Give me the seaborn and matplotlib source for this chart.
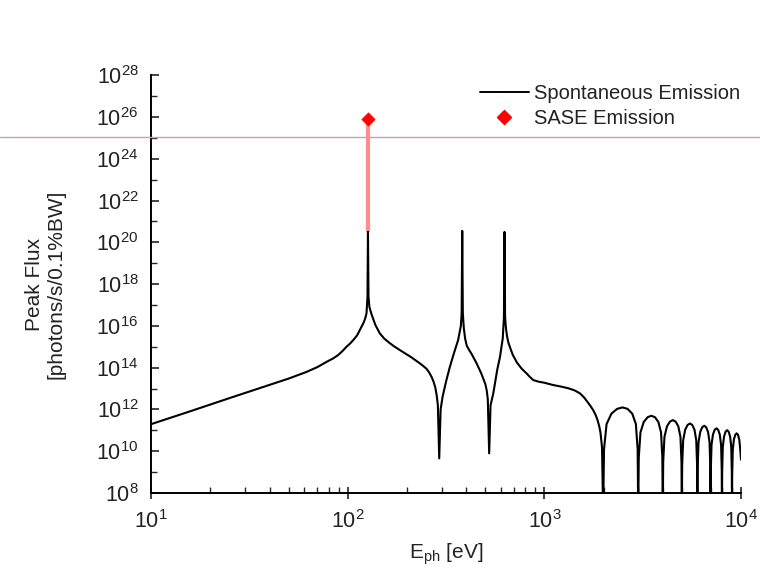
import numpy as np
import pandas as pd
import matplotlib
matplotlib.use("Agg")
import matplotlib.pyplot as plt
import seaborn as sns
from matplotlib.lines import Line2D
from matplotlib.ticker import FixedLocator, NullFormatter

# ---------------- data ----------------
# Spontaneous emission: photon energy [eV] and log10 of peak flux
energy_ev = [
    10.0, 15.85, 25.1, 39.8, 50.0, 61.7, 70.0, 78.0, 84.0, 89.1, 94.0, 98.4, 103.0,
    107.2, 111.5, 115.1, 118.0, 120.2, 122.5, 124.5, 125.9, 126.6, 127.4, 128.8,
    132.1, 138.0, 145.5, 153.0, 162.2, 172.0, 184.1, 196.0, 208.9, 220.0, 232.3,
    242.0, 251.2, 259.0, 266.7, 273.0, 278.6, 283.0, 287.1, 291.7, 296.5, 303.4,
    316.2, 330.4, 346.7, 363.9, 375.8, 379.3, 381.9, 384.6, 389.0, 395.0, 402.7,
    414.0, 426.6, 451.9, 478.6, 501.2, 509.0, 515.2, 523.6, 532.1, 549.5, 575.4,
    594.3, 613.8, 622.3, 626.6, 631.0, 638.0, 645.7, 655.0, 666.8, 690.0, 724.4,
    765.0, 810.9, 845.0, 877.0, 935.0, 1000, 1109, 1210, 1318, 1420, 1517, 1590,
    1660, 1720, 1770, 1820, 1862, 1900, 1928, 1963, 1990,
    2010, 2071, 2192, 2344, 2495, 2647, 2798, 2919, 2980, 3000,
    3020, 3080, 3200, 3350, 3500, 3650, 3800, 3920, 3980, 4000,
    4020, 4080, 4200, 4350, 4500, 4650, 4800, 4920, 4980, 5000,
    5020, 5080, 5200, 5350, 5500, 5650, 5800, 5920, 5980, 6000,
    6020, 6080, 6200, 6350, 6500, 6650, 6800, 6920, 6980, 7000,
    7020, 7080, 7200, 7350, 7500, 7650, 7800, 7920, 7980, 8000,
    8020, 8080, 8200, 8350, 8500, 8650, 8800, 8920, 8980, 9000,
    9020, 9080, 9200, 9350, 9500, 9650, 9800, 9920, 10000,
]
log_flux = [
    11.30, 11.92, 12.55, 13.17, 13.48, 13.80, 14.03, 14.28, 14.44, 14.60, 14.80, 15.00, 15.17,
    15.35, 15.55, 15.80, 16.00, 16.15, 16.35, 16.61, 17.40, 20.50, 17.40, 16.90,
    16.55, 16.05, 15.64, 15.40, 15.20, 15.02, 14.84, 14.68, 14.52, 14.37, 14.21,
    14.08, 13.95, 13.78, 13.56, 13.33, 13.05, 12.70, 12.20, 9.66, 12.00, 12.61,
    13.35, 14.04, 14.70, 15.32, 16.00, 16.60, 20.55, 16.60, 15.90, 15.40, 15.05,
    14.85, 14.65, 14.21, 13.70, 13.20, 12.90, 12.50, 9.90, 12.20, 12.77, 13.90,
    14.52, 15.40, 16.40, 20.50, 16.40, 15.85, 15.50, 15.22, 15.00, 14.62, 14.25,
    13.96, 13.73, 13.55, 13.41, 13.33, 13.28, 13.17, 13.10, 13.02, 12.92, 12.77, 12.58,
    12.35, 12.15, 11.97, 11.75, 11.50, 11.20, 10.90, 10.20, 7.0,
    10.10, 11.30, 11.80, 12.03, 12.10, 12.03, 11.80, 11.30, 10.10, 7.0,
    9.70, 10.90, 11.40, 11.63, 11.70, 11.63, 11.40, 10.90, 9.70, 7.0,
    9.49, 10.69, 11.19, 11.42, 11.49, 11.42, 11.19, 10.69, 9.49, 7.0,
    9.33, 10.53, 11.03, 11.26, 11.33, 11.26, 11.03, 10.53, 9.33, 7.0,
    9.22, 10.42, 10.92, 11.15, 11.22, 11.15, 10.92, 10.42, 9.22, 7.0,
    9.10, 10.30, 10.80, 11.03, 11.10, 11.03, 10.80, 10.30, 9.10, 7.0,
    9.01, 10.21, 10.71, 10.94, 11.01, 10.94, 10.71, 10.21, 9.01, 7.0,
    8.86, 10.06, 10.56, 10.79, 10.86, 10.79, 10.56, 10.06, 9.60,
]

# SASE emission point
sase_energy = [126.6]
sase_log_flux = [25.9]
sase_base_log_flux = [20.5]

x_ticks = [1e1, 1e2, 1e3, 1e4]
x_tick_labels = [r"$\mathregular{10^{1}}$", r"$\mathregular{10^{2}}$",
                 r"$\mathregular{10^{3}}$", r"$\mathregular{10^{4}}$"]
y_exponents = [8, 10, 12, 14, 16, 18, 20, 22, 24, 26, 28]
y_minor_exponents = [9, 11, 13, 15, 17, 19, 21, 23, 25, 27]

# ---------------- style ----------------
sns.set_style("ticks")
plt.rcParams['font.family'] = ['Liberation Sans', 'DejaVu Sans']
plt.rcParams['mathtext.fontset'] = 'custom'
plt.rcParams['mathtext.rm'] = 'Liberation Sans'
plt.rcParams['mathtext.it'] = 'Liberation Sans:italic'
plt.rcParams['mathtext.bf'] = 'Liberation Sans:bold'

df = pd.DataFrame({"energy": energy_ev, "flux": np.power(10.0, log_flux)})
sase_df = pd.DataFrame({"energy": sase_energy, "flux": np.power(10.0, sase_log_flux)})

fig = plt.figure(figsize=(7.6, 5.7), dpi=100)
ax = fig.add_axes([0.199, 0.135, 0.776, 0.733])
ax.set_xscale('log')
ax.set_yscale('log')

ax.vlines(sase_df["energy"], np.power(10.0, sase_base_log_flux), sase_df["flux"],
          color='#ff8c8c', lw=3, zorder=1)
sns.lineplot(data=df, x="energy", y="flux", ax=ax, color='black', lw=1.5,
             estimator=None, sort=False, zorder=3)
sns.scatterplot(data=sase_df, x="energy", y="flux", ax=ax, marker='D', color='red',
                edgecolor='red', s=45, zorder=4)

ax.set_xlim(1e1, 1e4)
ax.set_ylim(1e8, 1e28)

for s in ['top', 'right']:
    ax.spines[s].set_visible(False)
for s in ['left', 'bottom']:
    ax.spines[s].set_linewidth(1.4)
    ax.spines[s].set_color('black')

ax.xaxis.set_major_locator(FixedLocator(x_ticks))
ax.set_xticklabels(x_tick_labels)
ax.xaxis.set_minor_locator(FixedLocator([m * d for d in [10, 100, 1000] for m in range(2, 10)]))
ax.xaxis.set_minor_formatter(NullFormatter())
ax.yaxis.set_major_locator(FixedLocator([10.0 ** e for e in y_exponents]))
ax.set_yticklabels([r"$\mathregular{10^{%d}}$" % e for e in y_exponents])
ax.yaxis.set_minor_locator(FixedLocator([10.0 ** e for e in y_minor_exponents]))
ax.yaxis.set_minor_formatter(NullFormatter())

ax.tick_params(axis='x', which='major', direction='inout', length=9, width=1.2,
               labelsize=15.5, pad=8, colors='#222222')
ax.tick_params(axis='x', which='minor', direction='in', length=4, width=1.0)
ax.tick_params(axis='y', which='major', direction='in', length=6, width=1.2,
               labelsize=15.5, pad=9, colors='#222222')
ax.tick_params(axis='y', which='minor', direction='in', length=4, width=1.0)

ax.set_xlabel(r"$\mathregular{E_{ph}}$ [eV]", fontsize=15, labelpad=6, color='#222222')
ax.set_ylabel("Peak Flux\n[photons/s/0.1%BW]", fontsize=15, labelpad=22,
              linespacing=1.2, color='#222222')

handles = [Line2D([0], [0], color='black', lw=1.4),
           Line2D([0], [0], color='red', marker='D', lw=0, markersize=7)]
leg = ax.legend(handles, ["Spontaneous Emission", "SASE Emission"],
                loc='upper left', bbox_to_anchor=(0.632, 0.852),
                bbox_transform=fig.transFigure, frameon=False, fontsize=14.5,
                handlelength=2.4, handletextpad=0.25, labelspacing=0.3,
                borderaxespad=0, borderpad=0)
for t in leg.get_texts():
    t.set_color('#222222')

fig.add_artist(Line2D([0, 1], [0.760, 0.760], transform=fig.transFigure,
                      color='#cc99cc', lw=1.0, zorder=10))

fig.savefig("out.png", dpi=100)
